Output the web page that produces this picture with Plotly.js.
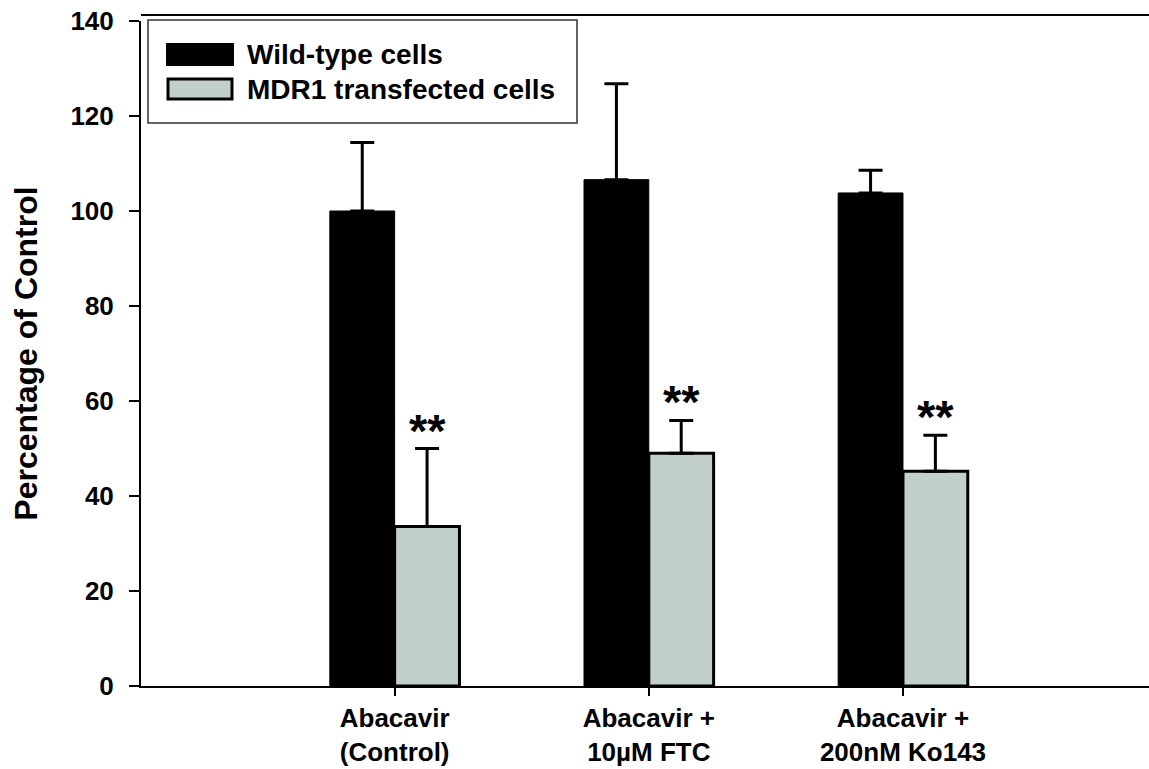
<!DOCTYPE html>
<html>
<head>
<meta charset="utf-8">
<script src="https://cdn.plot.ly/plotly-3.0.1.min.js"></script>
<style>
  html, body { margin: 0; padding: 0; background: #fff; }
  #chart { width: 1149px; height: 769px; }
</style>
</head>
<body>
<div id="chart"></div>
<script>
// ---- data ----
const categories = ["Abacavir<br>(Control)", "Abacavir +<br>10µM FTC", "Abacavir +<br>200nM Ko143"];
const seriesNames = ["Wild-type cells", "MDR1 transfected cells"];
const wildType = [100.0, 106.6, 103.8];
const wildTypeErr = [14.4, 20.2, 4.8];
const mdr1 = [33.6, 49.0, 45.2];
const mdr1Err = [16.4, 6.9, 7.6];
const significance = ["**", "**", "**"];
const yTicks = [0, 20, 40, 60, 80, 100, 120, 140];

const FONT = "Liberation Sans, Arial, sans-serif";
const GRAY = "#c3cfcd";
const BARGAP = 0.49;

const zeros = categories.map(() => 0);

const traces = [
  {
    type: "bar",
    name: seriesNames[0],
    x: categories,
    y: wildType,
    marker: { color: "#000000", line: { color: "#000000", width: 1 } },
    error_y: { type: "data", symmetric: false, array: wildTypeErr, arrayminus: zeros,
               color: "#000000", thickness: 3, width: 12 },
    showlegend: false
  },
  {
    type: "bar",
    name: seriesNames[1],
    x: categories,
    y: mdr1,
    marker: { color: GRAY, line: { color: "#000000", width: 3 } },
    error_y: { type: "data", symmetric: false, array: mdr1Err, arrayminus: zeros,
               color: "#000000", thickness: 3, width: 12 },
    showlegend: false
  }
];

// significance markers above MDR1 bars
const barW = (1 - BARGAP) / 2;
const annotations = significance.map((s, i) => ({
  x: i + barW / 2,
  y: mdr1[i] + mdr1Err[i],
  xref: "x", yref: "y",
  text: "<b>" + s + "</b>",
  showarrow: false,
  xanchor: "center", yanchor: "bottom",
  yshift: -10,
  font: { family: FONT, size: 47, color: "#000" }
}));

// legend (drawn manually to match large swatches)
const W = 1149 - 141, H = 665;
const px = v => (v - 141) / W;
const py = v => (686 - v) / H;
const shapes = [
  // top frame line
  { type: "line", xref: "paper", yref: "paper", x0: 0, x1: 1, y0: py(15), y1: py(15),
    line: { color: "#000", width: 2 } },
  // legend box
  { type: "rect", xref: "paper", yref: "paper", x0: px(148), x1: px(577), y0: py(123), y1: py(20),
    line: { color: "#333", width: 1.5 }, fillcolor: "#fff" },
  { type: "rect", xref: "paper", yref: "paper", x0: px(167), x1: px(233), y0: py(65), y1: py(44),
    line: { color: "#000", width: 2 }, fillcolor: "#000" },
  { type: "rect", xref: "paper", yref: "paper", x0: px(168), x1: px(232), y0: py(99), y1: py(79),
    line: { color: "#000", width: 3 }, fillcolor: GRAY }
];
annotations.push(
  { xref: "paper", yref: "paper", x: px(245), y: py(55), xanchor: "left", yanchor: "middle",
    text: "<b>" + seriesNames[0] + "</b>", showarrow: false,
    font: { family: FONT, size: 28, color: "#000" } },
  { xref: "paper", yref: "paper", x: px(245), y: py(89), xanchor: "left", yanchor: "middle",
    text: "<b>" + seriesNames[1] + "</b>", showarrow: false,
    font: { family: FONT, size: 28, color: "#000" } }
);

const layout = {
  width: 1149, height: 769,
  margin: { l: 141, r: 0, t: 21, b: 83 },
  paper_bgcolor: "#fff", plot_bgcolor: "#fff",
  barmode: "group",
  bargap: BARGAP,
  bargroupgap: 0,
  showlegend: false,
  font: { family: FONT, color: "#000" },
  xaxis: {
    type: "category",
    range: [-0.998, 2.968],
    showline: true, linecolor: "#000", linewidth: 2,
    ticks: "outside", ticklen: 8, tickwidth: 2, tickcolor: "#000",
    tickfont: { family: FONT, size: 26, color: "#000" },
    tickprefix: "<b>", ticksuffix: "</b>",
    showgrid: false, zeroline: false,
    fixedrange: true
  },
  yaxis: {
    range: [0, 140],
    tickvals: yTicks,
    ticktext: yTicks.map(v => "<b>" + v + "</b>"),
    showline: true, linecolor: "#000", linewidth: 2,
    ticks: "outside", ticklen: 10, tickwidth: 2, tickcolor: "#000",
    ticklabelstandoff: 10,
    tickfont: { family: FONT, size: 26, color: "#000" },
    showgrid: false, zeroline: false,
    title: { text: "<b>Percentage of Control</b>", font: { family: FONT, size: 32, color: "#000" }, standoff: 23 },
    fixedrange: true
  },
  shapes: shapes,
  annotations: annotations
};

Plotly.newPlot("chart", traces, layout, { displayModeBar: false, staticPlot: true });
</script>
</body>
</html>
